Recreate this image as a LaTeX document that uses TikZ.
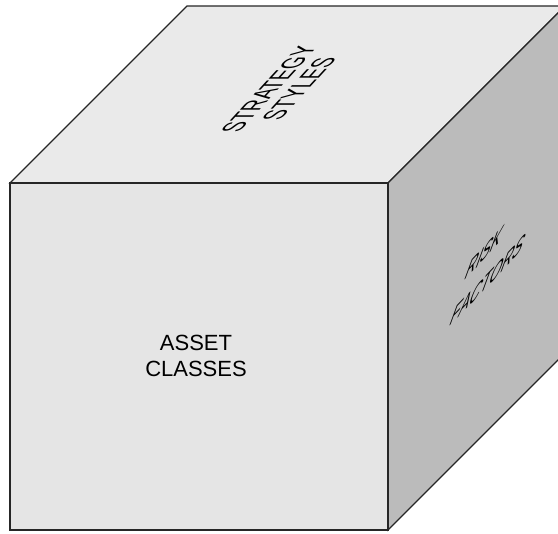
\documentclass[tikz,border=0pt]{standalone}
\usepackage{fontspec}
\setmainfont{Liberation Sans}
\usepackage{tikz}

\definecolor{frontgray}{RGB}{229,229,229}
\definecolor{topgray}{RGB}{234,234,234}
\definecolor{sidegray}{RGB}{187,187,187}

\begin{document}
\begin{tikzpicture}[x=1pt,y=1pt,
    cubeface/.style={draw=black!85, line width=1.1pt, line join=miter},
    facetext/.style={font=\fontsize{22}{26}\selectfont, align=center, inner sep=0pt},
    topplane/.style={cm={0.68,0.74,-1.3,0,(0,0)}},
    sideplane/.style={cm={0.69,0.73,0.5,1.36,(0,0)}}]
  % page frame
  \useasboundingbox (0,0) rectangle (558,-534);
  \clip (0,0) rectangle (558,-534);

  % Corners of the cube
  \coordinate (A) at (10,-183);  % front top left
  \coordinate (B) at (388,-183); % front top right
  \coordinate (C) at (388,-530); % front bottom right
  \coordinate (D) at (10,-530);  % front bottom left
  \coordinate (E) at (187,-6);   % back top left
  \coordinate (F) at (565,-6);   % back top right
  \coordinate (G) at (565,-353); % back bottom right

  % Faces
  \draw[cubeface, fill=topgray] (A) -- (E) -- (F) -- (B) -- cycle;
  \draw[cubeface, fill=sidegray] (B) -- (F) -- (G) -- (C) -- cycle;
  \draw[cubeface, fill=frontgray] (A) -- (B) -- (C) -- (D) -- cycle;

  % Front face
  \node[facetext] (asset) at (196,-356) {ASSET\\CLASSES};

  % Top face, text lies in the plane of the face
  \begin{scope}[shift={(284,-89)}, topplane]
    \node[facetext, font=\fontsize{22}{23}\selectfont, transform shape] (strategy) at (0,0) {STRATEGY\\STYLES};
  \end{scope}

  % Right face, one line at a time
  \begin{scope}[shift={(481,-263)}, sideplane]
    \node[facetext, anchor=base, transform shape] (risk) at (0,0) {RISK};
  \end{scope}
  \begin{scope}[shift={(484.5,-290)}, sideplane]
    \node[facetext, anchor=base, transform shape] (factors) at (0,0) {FACTORS};
  \end{scope}
\end{tikzpicture}
\end{document}
